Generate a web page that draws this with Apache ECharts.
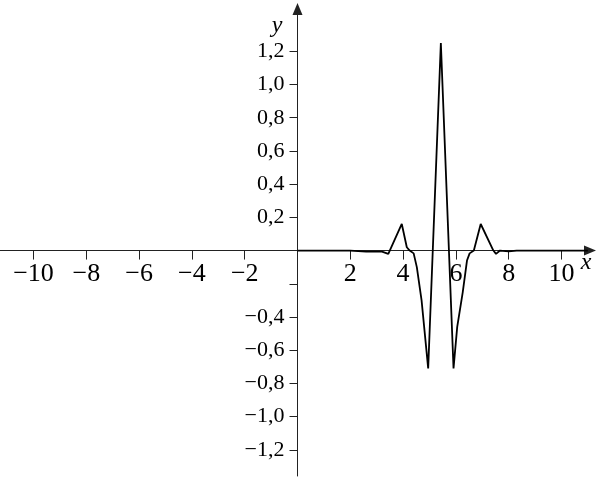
<!DOCTYPE html>
<html>
<head>
<meta charset="utf-8">
<script src="https://cdn.jsdelivr.net/npm/echarts@6/dist/echarts.min.js"></script>
<style>
  html, body { margin: 0; padding: 0; background: #fff; }
  #chart { width: 600px; height: 479px; }
</style>
</head>
<body>
<div id="chart"></div>
<script>
// curve (x, y)
const xs = [0, 1, 2, 2.6, 3.2, 3.44, 3.95, 4.14, 4.25, 4.4, 4.52, 4.7, 4.95, 5.43, 5.91, 6.05, 6.26, 6.42, 6.52, 6.68, 6.94, 7.42, 7.52, 7.67, 8.0, 8.3, 9, 10, 11];
const ys = [0, 0, 0, -0.006, -0.006, -0.02, 0.16, 0.02, 0, -0.017, -0.1, -0.3, -0.71, 1.25, -0.71, -0.46, -0.25, -0.06, -0.017, 0, 0.16, 0, -0.02, 0, -0.005, 0, 0, 0, 0];

// ticks and labels
const xTicks = [-10, -8, -6, -4, -2, 0, 2, 4, 6, 8, 10];
const xLabels = [-10, -8, -6, -4, -2, 2, 4, 6, 8, 10];
const yTicks = [-1.2, -1.0, -0.8, -0.6, -0.4, -0.2, 0.2, 0.4, 0.6, 0.8, 1.0, 1.2];
const yLabels = [-1.2, -1.0, -0.8, -0.6, -0.4, 0.2, 0.4, 0.6, 0.8, 1.0, 1.2];

const W = 600, H = 479;
const grid = { left: 0, right: 10, top: 9, bottom: 3 };
const xMin = -11.27, xMax = 11.08;
const yMin = -1.358, yMax = 1.455;

// axes cross at the origin: shift them in from the grid edges
const gw = W - grid.left - grid.right;
const gh = H - grid.top - grid.bottom;
const xAxisOffset = -gh * (0 - yMin) / (yMax - yMin);
const yAxisOffset = -gw * (0 - xMin) / (xMax - xMin);

const font = 'Liberation Serif';
const axisColor = '#222';

// math style minus sign
function minus(v, s) {
  return (v < 0 ? '\u2212' : '') + s;
}

const chart = echarts.init(document.getElementById('chart'));
chart.setOption({
  animation: false,
  grid: Object.assign({ containLabel: false, outerBoundsMode: 'none' }, grid),
  xAxis: {
    type: 'value',
    min: xMin,
    max: xMax,
    position: 'bottom',
    offset: xAxisOffset,
    name: 'x',
    nameLocation: 'end',
    nameGap: -4,
    nameMoveOverlap: false,
    nameTextStyle: { fontFamily: font, fontStyle: 'italic', fontSize: 24, color: '#000', align: 'center', verticalAlign: 'top' },
    axisLine: { onZero: false, lineStyle: { color: axisColor, width: 1 }, symbol: ['none', 'triangle'], symbolSize: [10, 12] },
    axisTick: { show: true, length: 9, lineStyle: { color: axisColor }, customValues: xTicks },
    axisLabel: {
      customValues: xLabels,
      margin: 11,
      fontFamily: font, fontSize: 26, color: '#000',
      formatter: v => minus(v, String(Math.abs(v)))
    },
    splitLine: { show: false }
  },
  yAxis: {
    type: 'value',
    min: yMin,
    max: yMax,
    position: 'left',
    offset: yAxisOffset,
    name: 'y',
    nameLocation: 'end',
    nameGap: -5,
    nameMoveOverlap: false,
    nameTextStyle: { fontFamily: font, fontStyle: 'italic', fontSize: 24, color: '#000', align: 'right', verticalAlign: 'top', padding: [0, 15, 0, 0] },
    axisLine: { onZero: false, lineStyle: { color: axisColor, width: 1 }, symbol: ['none', 'triangle'], symbolSize: [10, 12] },
    axisTick: { show: true, length: 8, lineStyle: { color: axisColor }, customValues: yTicks },
    axisLabel: {
      customValues: yLabels,
      margin: 13,
      padding: [5, 0, 0, 0],
      fontFamily: font, fontSize: 22, color: '#000',
      formatter: v => minus(v, Math.abs(v).toFixed(1).replace('.', ','))
    },
    splitLine: { show: false }
  },
  series: [{
    type: 'line',
    data: xs.map((x, i) => [x, ys[i]]),
    showSymbol: false,
    lineStyle: { color: '#000', width: 1.8 },
    z: 1
  }]
});
</script>
</body>
</html>
